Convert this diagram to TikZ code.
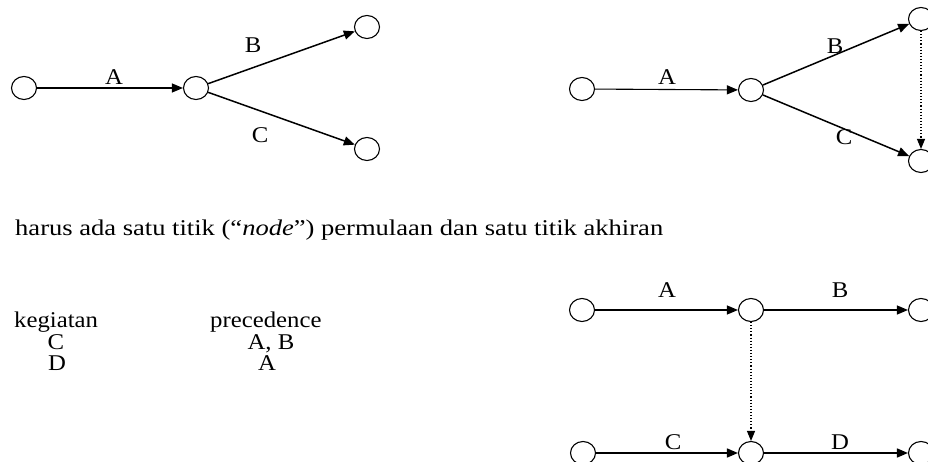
\documentclass[tikz,border=0pt]{standalone}
\usepackage{fontspec}
\usepackage{graphicx}
\setmainfont[FakeStretch=1.1]{Liberation Serif}
\usetikzlibrary{arrows.meta,shapes.geometric}
\tikzset{
  ev/.style={draw, ellipse, line width=1.1pt, minimum width=25pt, minimum height=23pt, inner sep=0pt},
  act/.style={line width=1.1pt, -{Triangle[length=11pt,width=9pt]}},
  actb/.style={line width=1.5pt, -{Triangle[length=11pt,width=9pt]}},
  dum/.style={line width=1.1pt, dotted, -{Triangle[length=10pt,width=8pt]}},
  lbl/.style={anchor=base, inner sep=0pt, font=\fontsize{22.5}{26}\selectfont},
  txt/.style={anchor=base west, inner sep=0pt, font=\fontsize{22.5}{26}\selectfont},
}
\begin{document}
\begin{tikzpicture}[x=1pt,y=-1pt]
\useasboundingbox (0,0) rectangle (928,462);
\clip (0,0) rectangle (928,462);
% top-left diagram
\node[ev] (a1) at (24,88) {};
\node[ev] (a2) at (196,88) {};
\node[ev] (a3) at (367,27) {};
\node[ev] (a4) at (367,149) {};
\draw[act] (a1) -- (a2);
\draw[actb] (a2) -- (a3);
\draw[actb] (a2) -- (a4);
\node[lbl] (la1) at (114,85) {A};
\node[lbl] (lb1) at (253,53) {B};
\node[lbl] (lc1) at (260,143) {C};
% top-right diagram
\node[ev] (b1) at (582,89) {};
\node[ev] (b2) at (751,90) {};
\node[ev] (b3) at (921,19) {};
\node[ev] (b4) at (921,161) {};
\draw[act] (b1) -- (b2);
\draw[actb] (b2) -- (b3);
\draw[actb] (b2) -- (b4);
\draw[dum] (b3) -- (b4);
\node[lbl] (la2) at (667,85) {A};
\node[lbl] (lb2) at (835,54) {B};
\node[lbl] (lc2) at (844,145) {C};
% text
\node[txt] (t1) at (15,236) {\resizebox{648pt}{\height}{harus ada satu titik (“\textit{node}”) permulaan dan satu titik akhiran}};
\node[txt] (h1) at (14,327) {kegiatan};
\node[txt] (h2) at (210,327) {precedence};
\node[lbl] (r1) at (56,349) {C};
\node[lbl] (r2) at (57,370) {D};
\node[lbl] (p1) at (271,349) {A, B};
\node[lbl] (p2) at (267,370) {A};
% bottom-right diagram
\node[ev] (c1) at (582,310) {};
\node[ev] (c2) at (751,310) {};
\node[ev] (c3) at (921,310) {};
\node[ev] (d1) at (583,453) {};
\node[ev] (d2) at (751,453) {};
\node[ev] (d3) at (921,453) {};
\draw[act] (c1) -- (c2);
\draw[act] (c2) -- (c3);
\draw[actb] (d1) -- (d2);
\draw[actb] (d2) -- (d3);
\draw[dum] (c2) -- (d2);
\node[lbl] (la3) at (667,297) {A};
\node[lbl] (lb3) at (840,297) {B};
\node[lbl] (lc3) at (673,449) {C};
\node[lbl] (ld3) at (840,449) {D};
\end{tikzpicture}
\end{document}
